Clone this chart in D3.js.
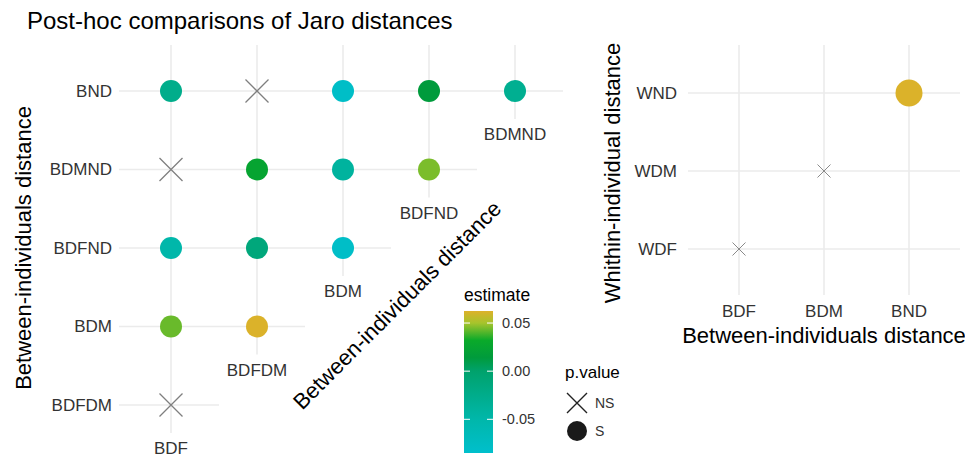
<!DOCTYPE html>
<html>
<head>
<meta charset="utf-8">
<script src="https://cdn.jsdelivr.net/npm/d3@7/dist/d3.min.js"></script>
<style>
body { margin: 0; background: #fff; }
text { font-family: "Liberation Sans", Arial, sans-serif; }
</style>
</head>
<body>
<div id="chart"></div>
<script>
// ---- data ----
var leftCols = ["BDF", "BDFDM", "BDM", "BDFND", "BDMND"];
var leftRows = ["BND", "BDMND", "BDFND", "BDM", "BDFDM"];
var leftPairs = [
  ["BND", "BDF"], ["BND", "BDFDM"], ["BND", "BDM"], ["BND", "BDFND"], ["BND", "BDMND"],
  ["BDMND", "BDF"], ["BDMND", "BDFDM"], ["BDMND", "BDM"], ["BDMND", "BDFND"],
  ["BDFND", "BDF"], ["BDFND", "BDFDM"], ["BDFND", "BDM"],
  ["BDM", "BDF"], ["BDM", "BDFDM"],
  ["BDFDM", "BDF"]
];
var leftEstimate = [-0.025, null, -0.08, 0.014, -0.03,
                    null, 0.025, -0.04, 0.045,
                    -0.05, -0.012, -0.08,
                    0.043, 0.062,
                    null];
var leftPValue = ["S", "NS", "S", "S", "S",
                  "NS", "S", "S", "S",
                  "S", "S", "S",
                  "S", "S",
                  "NS"];

var rightCols = ["BDF", "BDM", "BND"];
var rightRows = ["WND", "WDM", "WDF"];
var rightPairs = [["WDF", "BDF"], ["WDM", "BDM"], ["WND", "BND"]];
var rightEstimate = [null, null, 0.062];
var rightPValue = ["NS", "NS", "S"];

var legendTicks = [-0.05, 0.00, 0.05];
var estimateDomain = [-0.085, 0.0625];
var colorStops = [-0.085, -0.05, 0.0, 0.014, 0.032, 0.05, 0.0625];
var colorValues = ["#00bfcc", "#00b7aa", "#00a26c", "#009b3c", "#0aaa2a", "#a6c42c", "#ddb12a"];

// ---- setup ----
var svg = d3.select("#chart")
  .append("svg")
    .attr("width", 965)
    .attr("height", 458);

var grid = "#ebebeb";
var color = d3.scaleLinear().domain(colorStops).range(colorValues);

// title
svg.append("text")
  .attr("x", 27)
  .attr("y", 29)
  .style("font-size", "24px")
  .attr("fill", "#000")
  .text("Post-hoc comparisons of Jaro distances");

// ---- left panel (triangular matrix) ----
var x = d3.scalePoint().domain(leftCols).range([171, 515]);
var y = d3.scalePoint().domain(leftRows).range([91, 405]);
var left = svg.append("g");

// row grid lines, only across the columns each row has
leftRows.forEach(function(r, i) {
  var last = leftCols[leftCols.length - 1 - i];
  left.append("line")
    .attr("x1", x(leftCols[0]) - 52)
    .attr("x2", x(last) + 48)
    .attr("y1", y(r)).attr("y2", y(r))
    .attr("stroke", grid).attr("stroke-width", 1.6);
});
// column grid lines down to the last row of each column
leftCols.forEach(function(c, j) {
  var bottomRow = leftRows[leftRows.length - 1 - j];
  left.append("line")
    .attr("x1", x(c)).attr("x2", x(c))
    .attr("y1", 45)
    .attr("y2", y(bottomRow) + 28)
    .attr("stroke", grid).attr("stroke-width", 1.6);
  // column label under its own column
  left.append("text")
    .attr("x", x(c))
    .attr("y", y(bottomRow) + 49)
    .attr("text-anchor", "middle")
    .style("font-size", "17px")
    .attr("fill", "#333")
    .text(c);
});
// row labels
left.selectAll(".rowlab")
  .data(leftRows)
  .enter()
  .append("text")
    .attr("x", 112)
    .attr("y", function(d) { return y(d); })
    .attr("dy", "0.35em")
    .attr("text-anchor", "end")
    .style("font-size", "17px")
    .attr("fill", "#333")
    .text(function(d) { return d; });

var leftData = leftPairs.map(function(p, i) {
  return {row: p[0], col: p[1], est: leftEstimate[i], p: leftPValue[i]};
});

left.selectAll(".sig")
  .data(leftData.filter(function(d) { return d.p === "S"; }))
  .enter()
  .append("circle")
    .attr("cx", function(d) { return x(d.col); })
    .attr("cy", function(d) { return y(d.row); })
    .attr("r", 11)
    .attr("fill", function(d) { return color(d.est); });

left.selectAll(".ns")
  .data(leftData.filter(function(d) { return d.p === "NS"; }))
  .enter()
  .append("path")
    .attr("d", function(d) {
      var cx = x(d.col), cy = y(d.row), s = 11.5;
      return "M" + (cx - s) + "," + (cy - s) + "L" + (cx + s) + "," + (cy + s) +
             "M" + (cx - s) + "," + (cy + s) + "L" + (cx + s) + "," + (cy - s);
    })
    .attr("stroke", "#7f7f7f")
    .attr("stroke-width", 1.3)
    .attr("fill", "none");

// axis titles
svg.append("text")
  .attr("transform", "translate(23,248) rotate(-90)")
  .attr("dy", "0.35em")
  .attr("text-anchor", "middle")
  .style("font-size", "22px")
  .text("Between-individuals distance");

svg.append("text")
  .attr("transform", "translate(397,305) rotate(-45)")
  .attr("dy", "0.35em")
  .attr("text-anchor", "middle")
  .style("font-size", "22px")
  .text("Between-individuals distance");

// ---- colour legend ----
var defs = svg.append("defs");
var grad = defs.append("linearGradient")
  .attr("id", "estGrad")
  .attr("x1", 0).attr("x2", 0).attr("y1", 1).attr("y2", 0);
var stopScale = d3.scaleLinear().domain(estimateDomain).range([0, 1]);
colorStops.forEach(function(v, i) {
  grad.append("stop")
    .attr("offset", stopScale(v))
    .attr("stop-color", colorValues[i]);
});

var ly = d3.scaleLinear().domain(estimateDomain).range([453, 311]);
svg.append("text")
  .attr("x", 464)
  .attr("y", 301)
  .style("font-size", "17.5px")
  .attr("fill", "#000")
  .text("estimate");
svg.append("rect")
  .attr("x", 464).attr("y", ly(estimateDomain[1]))
  .attr("width", 29)
  .attr("height", ly(estimateDomain[0]) - ly(estimateDomain[1]))
  .attr("fill", "url(#estGrad)");
legendTicks.forEach(function(t) {
  [[464, 470], [487, 493]].forEach(function(seg) {
    svg.append("line")
      .attr("x1", seg[0]).attr("x2", seg[1])
      .attr("y1", ly(t)).attr("y2", ly(t))
      .attr("stroke", "#fff").attr("stroke-width", 1);
  });
  svg.append("text")
    .attr("x", 502)
    .attr("y", ly(t))
    .attr("dy", "0.35em")
    .style("font-size", "14.5px")
    .attr("fill", "#333")
    .text(t.toFixed(2));
});

// p.value legend
svg.append("text")
  .attr("x", 565).attr("y", 378)
  .style("font-size", "17px")
  .attr("fill", "#000")
  .text("p.value");
svg.append("path")
  .attr("d", "M567,393L587,413M567,413L587,393")
  .attr("stroke", "#222").attr("stroke-width", 1.4).attr("fill", "none");
svg.append("circle")
  .attr("cx", 577).attr("cy", 431).attr("r", 10)
  .attr("fill", "#1a1a1a");
svg.append("text").attr("x", 595).attr("y", 403).attr("dy", "0.35em")
  .style("font-size", "14px").attr("fill", "#333").text("NS");
svg.append("text").attr("x", 595).attr("y", 431).attr("dy", "0.35em")
  .style("font-size", "14px").attr("fill", "#333").text("S");

// ---- right panel ----
var x2 = d3.scalePoint().domain(rightCols).range([739, 909]);
var y2 = d3.scalePoint().domain(rightRows).range([93, 249]);
var right = svg.append("g");

rightRows.forEach(function(r) {
  right.append("line")
    .attr("x1", 688).attr("x2", 960)
    .attr("y1", y2(r)).attr("y2", y2(r))
    .attr("stroke", grid).attr("stroke-width", 1.6);
});
rightCols.forEach(function(c) {
  right.append("line")
    .attr("x1", x2(c)).attr("x2", x2(c))
    .attr("y1", 45).attr("y2", 295)
    .attr("stroke", grid).attr("stroke-width", 1.6);
});

right.selectAll(".xlab")
  .data(rightCols)
  .enter()
  .append("text")
    .attr("x", function(d) { return x2(d); })
    .attr("y", 311)
    .attr("dy", "0.35em")
    .attr("text-anchor", "middle")
    .style("font-size", "17px")
    .attr("fill", "#333")
    .text(function(d) { return d; });
right.selectAll(".ylab")
  .data(rightRows)
  .enter()
  .append("text")
    .attr("x", 677)
    .attr("y", function(d) { return y2(d); })
    .attr("dy", "0.35em")
    .attr("text-anchor", "end")
    .style("font-size", "17px")
    .attr("fill", "#333")
    .text(function(d) { return d; });

var rightData = rightPairs.map(function(p, i) {
  return {row: p[0], col: p[1], est: rightEstimate[i], p: rightPValue[i]};
});
right.selectAll(".sig")
  .data(rightData.filter(function(d) { return d.p === "S"; }))
  .enter()
  .append("circle")
    .attr("cx", function(d) { return x2(d.col); })
    .attr("cy", function(d) { return y2(d.row); })
    .attr("r", 13.5)
    .attr("fill", function(d) { return color(d.est); });
right.selectAll(".ns")
  .data(rightData.filter(function(d) { return d.p === "NS"; }))
  .enter()
  .append("path")
    .attr("d", function(d) {
      var cx = x2(d.col), cy = y2(d.row), s = 6.5;
      return "M" + (cx - s) + "," + (cy - s) + "L" + (cx + s) + "," + (cy + s) +
             "M" + (cx - s) + "," + (cy + s) + "L" + (cx + s) + "," + (cy - s);
    })
    .attr("stroke", "#8a8a8a")
    .attr("stroke-width", 1)
    .attr("fill", "none");

svg.append("text")
  .attr("x", 824)
  .attr("y", 343)
  .attr("text-anchor", "middle")
  .style("font-size", "22px")
  .text("Between-individuals distance");
svg.append("text")
  .attr("transform", "translate(612,173) rotate(-90)")
  .attr("dy", "0.35em")
  .attr("text-anchor", "middle")
  .style("font-size", "22px")
  .text("Whithin-individual distance");
</script>
</body>
</html>
